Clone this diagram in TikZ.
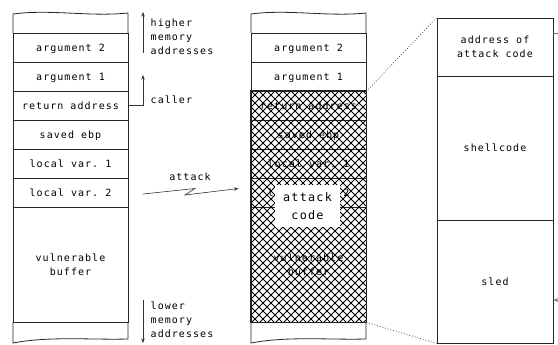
\documentclass[tikz,border=0pt]{standalone}
\usepackage{fontspec}
\setmonofont[LetterSpace=10.5]{DejaVu Sans Mono}
\usetikzlibrary{arrows.meta}
\begin{document}
\begin{tikzpicture}[x=1pt,y=-1pt,
  font=\ttfamily\fontsize{10}{14}\selectfont,
  edge/.style={draw=black!85, line width=0.8pt},
  cell/.style={draw=black!85, line width=0.8pt, minimum width=115pt, inner sep=0pt,
    text height=8pt, text depth=0pt, align=center},
  note/.style={inner sep=0pt, align=left, anchor=north west},
  tip/.style={-{Stealth[length=4.5pt,width=3.5pt]}, line width=0.6pt, draw=black!80},
  dots/.style={dotted, line width=0.8pt, draw=black!70},
  hatch/.style={line width=1pt, black}]
\useasboundingbox (0,0) rectangle (558,345);

% ---------- left stack ----------
\draw[edge] (13,33) -- (13,14) .. controls (50,9) and (90,17) .. (128,13) -- (128,33);
\node[cell, minimum height=29pt] (la2) at (70.5,47.5) {argument 2};
\node[cell, minimum height=29pt] (la1) at (70.5,76.5) {argument 1};
\node[cell, minimum height=29pt] (lra) at (70.5,105.5) {return address};
\node[cell, minimum height=29pt] (lsb) at (70.5,134.5) {saved ebp};
\node[cell, minimum height=29pt] (lv1) at (70.5,163.5) {local var. 1};
\node[cell, minimum height=29pt] (lv2) at (70.5,192.5) {local var. 2};
\node[cell, minimum height=115pt, text height=] (lbuf) at (70.5,264.5) {vulnerable\\buffer};
\draw[edge] (13,322) -- (13,343) .. controls (50,336) and (90,340) .. (128,339) -- (128,322);

% ---------- annotations ----------
\coordinate (hiS) at (143,53);
\coordinate (hiE) at (143,12);
\draw[tip] (hiS) -- (hiE);
\node[note] (hi) at (150.5,19) {higher\\memory\\addresses};
\coordinate (callerE) at (143,75);
\draw[tip] (lra.east) -| (callerE);
\node[inner sep=0pt, anchor=west] (caller) at (150.5,100) {caller};
\coordinate (loS) at (143,300);
\coordinate (loE) at (143,343);
\draw[tip] (loS) -- (loE);
\node[note] (lo) at (150.5,302) {lower\\memory\\addresses};

\node[inner sep=0pt] (attack) at (190,177) {attack};
\coordinate (z0) at (143,194);
\coordinate (z1) at (195,188.5);
\coordinate (z2) at (185,195);
\coordinate (z3) at (238.5,188.5);
\draw[tip] (z0) -- (z1) -- (z2) -- (z3);

% ---------- middle stack ----------
\draw[edge] (251,33) -- (251,14) .. controls (288,9) and (328,17) .. (366,13) -- (366,33);
\node[cell, minimum height=29pt] (ma2) at (308.5,47.5) {argument 2};
\node[cell, minimum height=29pt] (ma1) at (308.5,76.5) {argument 1};
\node[cell, minimum height=29pt] (mra) at (308.5,105.5) {return address};
\node[cell, minimum height=29pt] (msb) at (308.5,134.5) {saved ebp};
\node[cell, minimum height=29pt] (mv1) at (308.5,163.5) {local var. 1};
\node[cell, minimum height=29pt] (mv2) at (308.5,192.5) {local var. 2};
\node[cell, minimum height=115pt, text height=] (mbuf) at (308.5,264.5) {vulnerable\\buffer};
\draw[edge] (251,322) -- (251,343) .. controls (288,336) and (328,340) .. (366,339) -- (366,322);
\begin{scope}
  \clip (mra.north west) rectangle (mbuf.south east);
  \foreach \k in {-240,-232,...,120} {
    \draw[hatch] (251+\k,91) -- ++(240,240);
  }
  \foreach \k in {0,8,...,360} {
    \draw[hatch] (251+\k,91) -- ++(-240,240);
  }
\end{scope}
\draw[edge] (mra.north west) rectangle (mbuf.south east);
\node[fill=white, inner sep=0pt, minimum width=65pt, minimum height=42pt, align=center,
  font=\ttfamily\fontsize{11.8}{17.6}\selectfont] (acode) at (307.5,206) {attack\\code};

% ---------- right stack ----------
\node[cell, minimum width=116pt, minimum height=58pt, text height=] (radr) at (495,47) {address of\\attack code};
\node[cell, minimum width=116pt, minimum height=144pt] (rsh) at (495,148) {shellcode};
\node[cell, minimum width=116pt, minimum height=123pt] (rsled) at (495,281.5) {sled};

\draw[dots] (ma1.south east) -- (radr.north west);
\draw[dots] (mbuf.south east) -- (rsled.south west);

\coordinate (rA) at (radr.north east |- 0,33);
\coordinate (rB) at (575,33);
\coordinate (rC) at (575,300);
\coordinate (rD) at (rsled.east |- 0,300);
\draw[tip, draw=black!55] (rA) -- (rB) -- (rC) -- (rD);
\end{tikzpicture}
\end{document}
